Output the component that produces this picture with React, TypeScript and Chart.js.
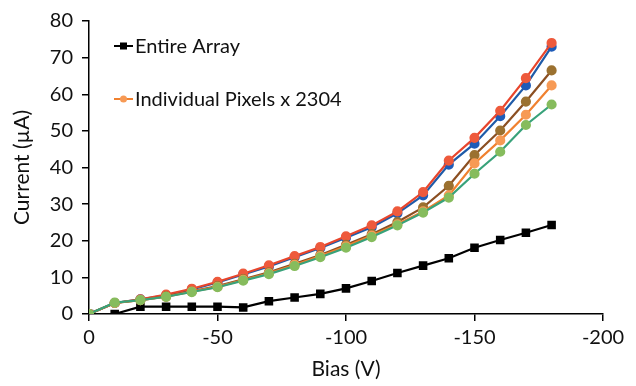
import React, { useEffect, useRef } from "react";
import { Chart, registerables } from "chart.js";

Chart.register(...registerables);

const biasV = [0, -10, -20, -30, -40, -50, -60, -70, -80, -90, -100, -110, -120, -130, -140, -150, -160, -170, -180];
const entireArray = [0, 0, 2, 2, 2, 2, 1.8, 3.5, 4.5, 5.5, 7, 9, 11.2, 13.2, 15.2, 18.1, 20.2, 22.2, 24.3];
const pixelRed = [0, 3, 4, 5.3, 6.9, 8.8, 11.0, 13.3, 15.8, 18.3, 21.2, 24.2, 28.0, 33.3, 41.9, 48.1, 55.5, 64.4, 74.0];
const pixelBlue = [0, 3, 4, 5.1, 6.7, 8.6, 10.8, 13.0, 15.5, 18.0, 20.8, 23.7, 27.5, 32.4, 40.8, 46.5, 54.0, 62.4, 73.0];
const pixelBrown = [0, 3, 3.8, 4.8, 6.2, 7.6, 9.5, 11.4, 13.7, 16.1, 18.9, 21.8, 25.1, 29.1, 35.0, 43.4, 50.1, 58.0, 66.5];
const pixelOrange = [0, 3, 3.8, 4.7, 6.1, 7.4, 9.3, 11.1, 13.4, 15.8, 18.5, 21.4, 24.5, 28.0, 32.4, 41.1, 47.4, 54.4, 62.4];
const pixelGreen = [0, 3.1, 3.8, 4.7, 6.0, 7.3, 9.1, 10.9, 13.1, 15.5, 18.1, 21.0, 24.2, 27.7, 31.8, 38.3, 44.3, 51.6, 57.2];

const FONT = "Lato, 'Open Sans', sans-serif";
const TEXT = "#111";

const toPts = (ys: number[]) => biasV.map((x, i) => ({ x, y: ys[i] }));

const legendPlugin = {
  id: "customLegend",
  afterDraw(chart: any) {
    const ctx = chart.ctx;
    const items = chart.data.datasets
      .filter((d: any) => d.legendOrder !== undefined)
      .sort((a: any, b: any) => a.legendOrder - b.legendOrder);
    const x0 = 114;
    const rows = [46, 99];
    ctx.save();
    items.forEach((d: any, i: number) => {
      const y = rows[i];
      ctx.strokeStyle = d.borderColor;
      ctx.lineWidth = 2;
      ctx.beginPath();
      ctx.moveTo(x0, y);
      ctx.lineTo(x0 + 19, y);
      ctx.stroke();
      ctx.fillStyle = d.pointBackgroundColor;
      if (d.pointStyle === "rect") {
        ctx.fillRect(x0 + 6, y - 3.5, 7, 7);
      } else {
        ctx.beginPath();
        ctx.arc(x0 + 9.5, y, 3.5, 0, Math.PI * 2);
        ctx.fill();
      }
      ctx.fillStyle = TEXT;
      ctx.font = `20px ${FONT}`;
      ctx.textBaseline = "middle";
      ctx.textAlign = "left";
      ctx.fillText(d.label, x0 + 21, y + 1);
    });
    ctx.restore();
  },
};

function mk(label: string, data: number[], line: string, marker: string, legendOrder: number | undefined, style: string = "circle", radius = 4) {
  return {
    label,
    data: toPts(data),
    borderColor: line,
    backgroundColor: marker,
    pointBackgroundColor: marker,
    pointBorderColor: marker,
    pointStyle: style,
    pointRadius: radius,
    borderWidth: 2.2,
    legendOrder,
    tension: 0,
  };
}

export default function App() {
  const ref = useRef<HTMLCanvasElement>(null);
  useEffect(() => {
    document.body.style.margin = "0";
    const chart = new Chart(ref.current!, {
      type: "line",
      data: {
        datasets: [
          mk("Individual Pixels x 2304 (G)", pixelGreen, "#38A27A", "#86BC5D", undefined),
          mk("Individual Pixels x 2304", pixelOrange, "#F0812F", "#F79A55", 1),
          mk("Individual Pixels x 2304 (Br)", pixelBrown, "#8B4F22", "#9B7130", undefined),
          mk("Individual Pixels x 2304 (R)", pixelRed, "#E8452C", "#EE5A3C", undefined),
          mk("Individual Pixels x 2304 (B)", pixelBlue, "#1F5BA8", "#1E5BB8", undefined),
          mk("Entire Array", entireArray, "#000000", "#000000", 0, "rect", 4.5),
        ] as any,
      },
      options: {
        animation: false,
        responsive: false,
        layout: { padding: { top: 12, right: 33, left: 0, bottom: 0 } },
        plugins: { legend: { display: false }, tooltip: { enabled: false } },
        scales: {
          x: {
            type: "linear",
            min: -200,
            max: 0,
            reverse: true,
            ticks: { stepSize: 50, color: TEXT, font: { family: FONT, size: 20 }, padding: 5 },
            grid: { display: true, drawOnChartArea: false, drawTicks: true, tickLength: 7, color: "#000", lineWidth: 1.5 },
            border: { color: "#000", width: 1.5 },
            title: { display: true, text: "Bias (V)", color: TEXT, font: { family: FONT, size: 21 }, padding: { top: 4, bottom: 4 } },
            afterFit: (s: any) => { s.height = 72; },
          },
          y: {
            type: "linear",
            min: 0,
            max: 80,
            ticks: { stepSize: 10, color: TEXT, font: { family: FONT, size: 20 }, padding: 9 },
            grid: { display: true, drawOnChartArea: false, drawTicks: true, tickLength: 7, color: "#000", lineWidth: 1.5 },
            border: { color: "#000", width: 1.5 },
            title: { display: true, text: "Current (\u00b5A)", color: TEXT, font: { family: FONT, size: 21 }, padding: { top: 10, bottom: 4 } },
            afterFit: (s: any) => { s.width = 89; },
          },
        },
      } as any,
      plugins: [legendPlugin],
    });
    return () => chart.destroy();
  }, []);
  return (
    <div style={{ width: 636, height: 386 }}>
      <canvas ref={ref} width={636} height={386} />
    </div>
  );
}
